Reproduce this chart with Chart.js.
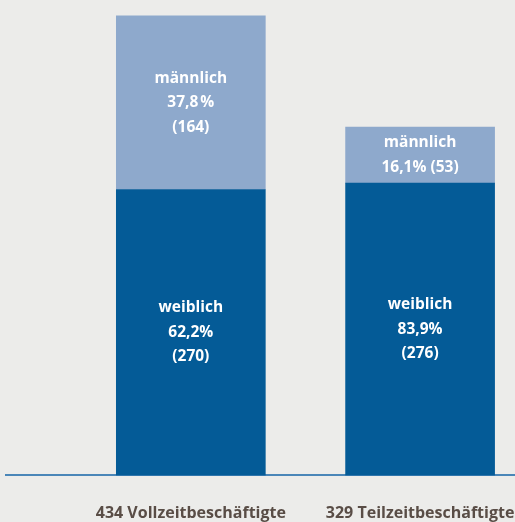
<!DOCTYPE html>
<html>
<head>
<meta charset="utf-8">
<script src="https://cdn.jsdelivr.net/npm/chart.js@4"></script>
<style>
  body { margin: 0; background: #ececea; }
  #wrap { width: 515px; height: 522px; position: relative; }
</style>
</head>
<body>
<div id="wrap"><canvas id="chart"></canvas></div>
<script>
const categories = ["434 Vollzeitbeschäftigte", "329 Teilzeitbeschäftigte"];
const xPositions = [1, 2];
const weiblich = [270, 276];
const maennlich = [164, 53];
const weiblichLabels = [["weiblich", "62,2%", "(270)"], ["weiblich", "83,9%", "(276)"]];
const maennlichLabels = [["männlich", "37,8\u202f%", "(164)"], ["männlich", "16,1% (53)"]];

const FONT = "'Open Sans'";

// write the text lines in the middle of each bar segment
const segmentText = {
  id: "segmentText",
  afterDatasetsDraw(chart) {
    const ctx = chart.ctx;
    ctx.save();
    ctx.fillStyle = "#ffffff";
    ctx.font = "bold 15.5px " + FONT;
    ctx.textAlign = "center";
    ctx.textBaseline = "middle";
    chart.data.datasets.forEach((ds, di) => {
      const meta = chart.getDatasetMeta(di);
      meta.data.forEach((bar, i) => {
        const lines = ds.texts[i];
        const lh = 24.5;
        const mid = (bar.y + bar.base) / 2;
        const start = mid - (lines.length - 1) * lh / 2;
        lines.forEach((t, k) => ctx.fillText(t, bar.x, start + k * lh));
      });
    });
    ctx.restore();
  }
};

const chart = new Chart(document.getElementById("chart"), {
  type: "bar",
  data: {
    datasets: [
      {
        label: "weiblich",
        data: xPositions.map((x, i) => ({ x: x, y: weiblich[i] })),
        texts: weiblichLabels,
        backgroundColor: "#045b97",
        barThickness: 149
      },
      {
        label: "männlich",
        data: xPositions.map((x, i) => ({ x: x, y: maennlich[i] })),
        texts: maennlichLabels,
        backgroundColor: "#8ea9cc",
        barThickness: 149
      }
    ]
  },
  options: {
    responsive: true,
    maintainAspectRatio: false,
    animation: false,
    layout: { padding: { left: 6, top: 0, right: 0, bottom: 0 } },
    plugins: {
      legend: { display: false },
      tooltip: { enabled: false }
    },
    scales: {
      x: {
        type: "linear",
        stacked: true,
        offset: false,
        bounds: "data",
        min: 1 - 185 / 229.5,
        max: 2 + 95 / 229.5,
        afterBuildTicks: scale => {
          scale.ticks = xPositions.map(v => ({ value: v }));
        },
        grid: { display: false, offset: false, drawTicks: true, tickLength: 29 },
        border: { display: true, color: "#4a86b8", width: 2 },
        ticks: {
          padding: 0,
          maxRotation: 0,
          autoSkip: false,
          color: "#594d46",
          font: { family: FONT, size: 16, weight: "bold", lineHeight: 1.1 },
          callback: value => categories[xPositions.indexOf(value)]
        }
      },
      y: {
        display: false,
        stacked: true,
        min: 0,
        max: 449
      }
    }
  },
  plugins: [segmentText]
});
</script>
</body>
</html>
